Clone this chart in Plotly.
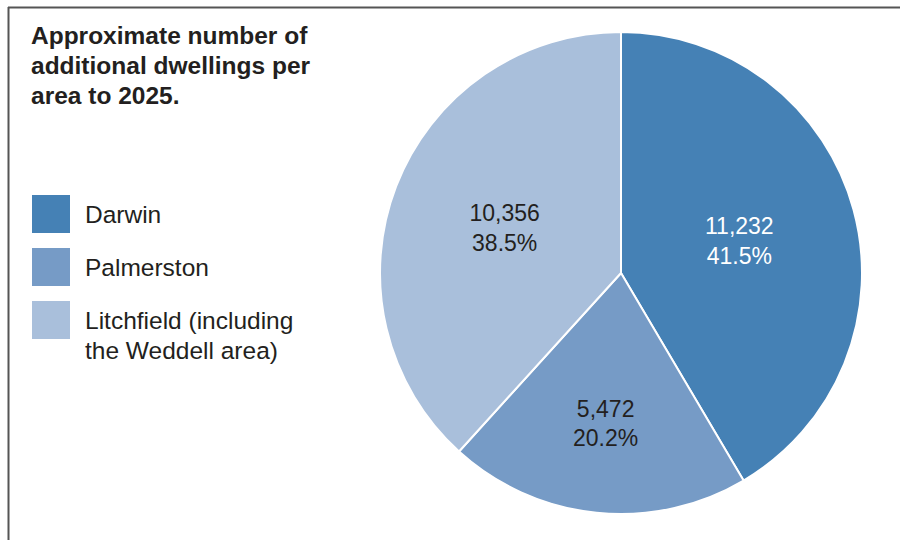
import plotly.graph_objects as go

# ---- data ----
labels = ["Darwin", "Palmerston", "Litchfield (including the Weddell area)"]
legend_lines = [["Darwin"], ["Palmerston"], ["Litchfield (including", "the Weddell area)"]]
values = [11232, 5472, 10356]
percent_labels = ["41.5%", "20.2%", "38.5%"]
colors = ["#4581B5", "#769BC6", "#A9BFDB"]
text_colors = ["#FFFFFF", "#231F20", "#231F20"]
title_lines = ["Approximate number of", "additional dwellings per", "area to 2025."]

# ---- layout constants (pixels) ----
W, H = 904, 540
cx, cy, R = 621, 273, 241
FONT = "Liberation Sans, Arial, Helvetica, sans-serif"
DARK = "#231F20"
LINE = 30

def px(x):
    return x / W

def py(y):
    return 1 - y / H

fig = go.Figure(go.Pie(
    labels=labels,
    values=values,
    text=percent_labels,
    sort=False,
    direction="clockwise",
    rotation=0,
    marker=dict(colors=colors, line=dict(color="white", width=2)),
    texttemplate="%{value:,}<br>%{text}",
    textposition="inside",
    insidetextorientation="horizontal",
    textfont=dict(family=FONT, size=23, color=text_colors),
    hoverinfo="skip",
    showlegend=False,
    domain=dict(x=[px(cx - R), px(cx + R)], y=[py(cy + R), py(cy - R)]),
))

annotations = []
# title (one annotation per line for exact line spacing)
for i, line in enumerate(title_lines):
    annotations.append(dict(
        x=px(29), y=py(35.5 + i * LINE), xref="paper", yref="paper",
        xanchor="left", yanchor="middle",
        text=line, showarrow=False, align="left",
        font=dict(family=FONT, size=24.5, color=DARK, weight="bold"),
    ))

shapes = []
# manual legend
sq = 38
leg_x = 32
leg_top = [195, 248, 301]
for lines, col, top in zip(legend_lines, colors, leg_top):
    shapes.append(dict(type="rect", xref="paper", yref="paper",
                       x0=px(leg_x), x1=px(leg_x + sq), y0=py(top + sq), y1=py(top),
                       fillcolor=col, line=dict(width=0)))
    for j, line in enumerate(lines):
        annotations.append(dict(
            x=px(83), y=py(top + sq / 2 + j * LINE), xref="paper", yref="paper",
            xanchor="left", yanchor="middle",
            text=line, showarrow=False, align="left",
            font=dict(family=FONT, size=24.5, color=DARK),
        ))

# frame lines
shapes.append(dict(type="line", xref="paper", yref="paper",
                   x0=px(8.5), x1=px(8.5), y0=0, y1=py(7), line=dict(color="#555555", width=2)))
shapes.append(dict(type="line", xref="paper", yref="paper",
                   x0=px(8), x1=px(900), y0=py(7.5), y1=py(7.5), line=dict(color="#555555", width=2)))

fig.update_layout(
    width=W, height=H,
    margin=dict(l=0, r=0, t=0, b=0),
    paper_bgcolor="white", plot_bgcolor="white",
    annotations=annotations, shapes=shapes,
    showlegend=False,
)

fig.write_html("out.html")
